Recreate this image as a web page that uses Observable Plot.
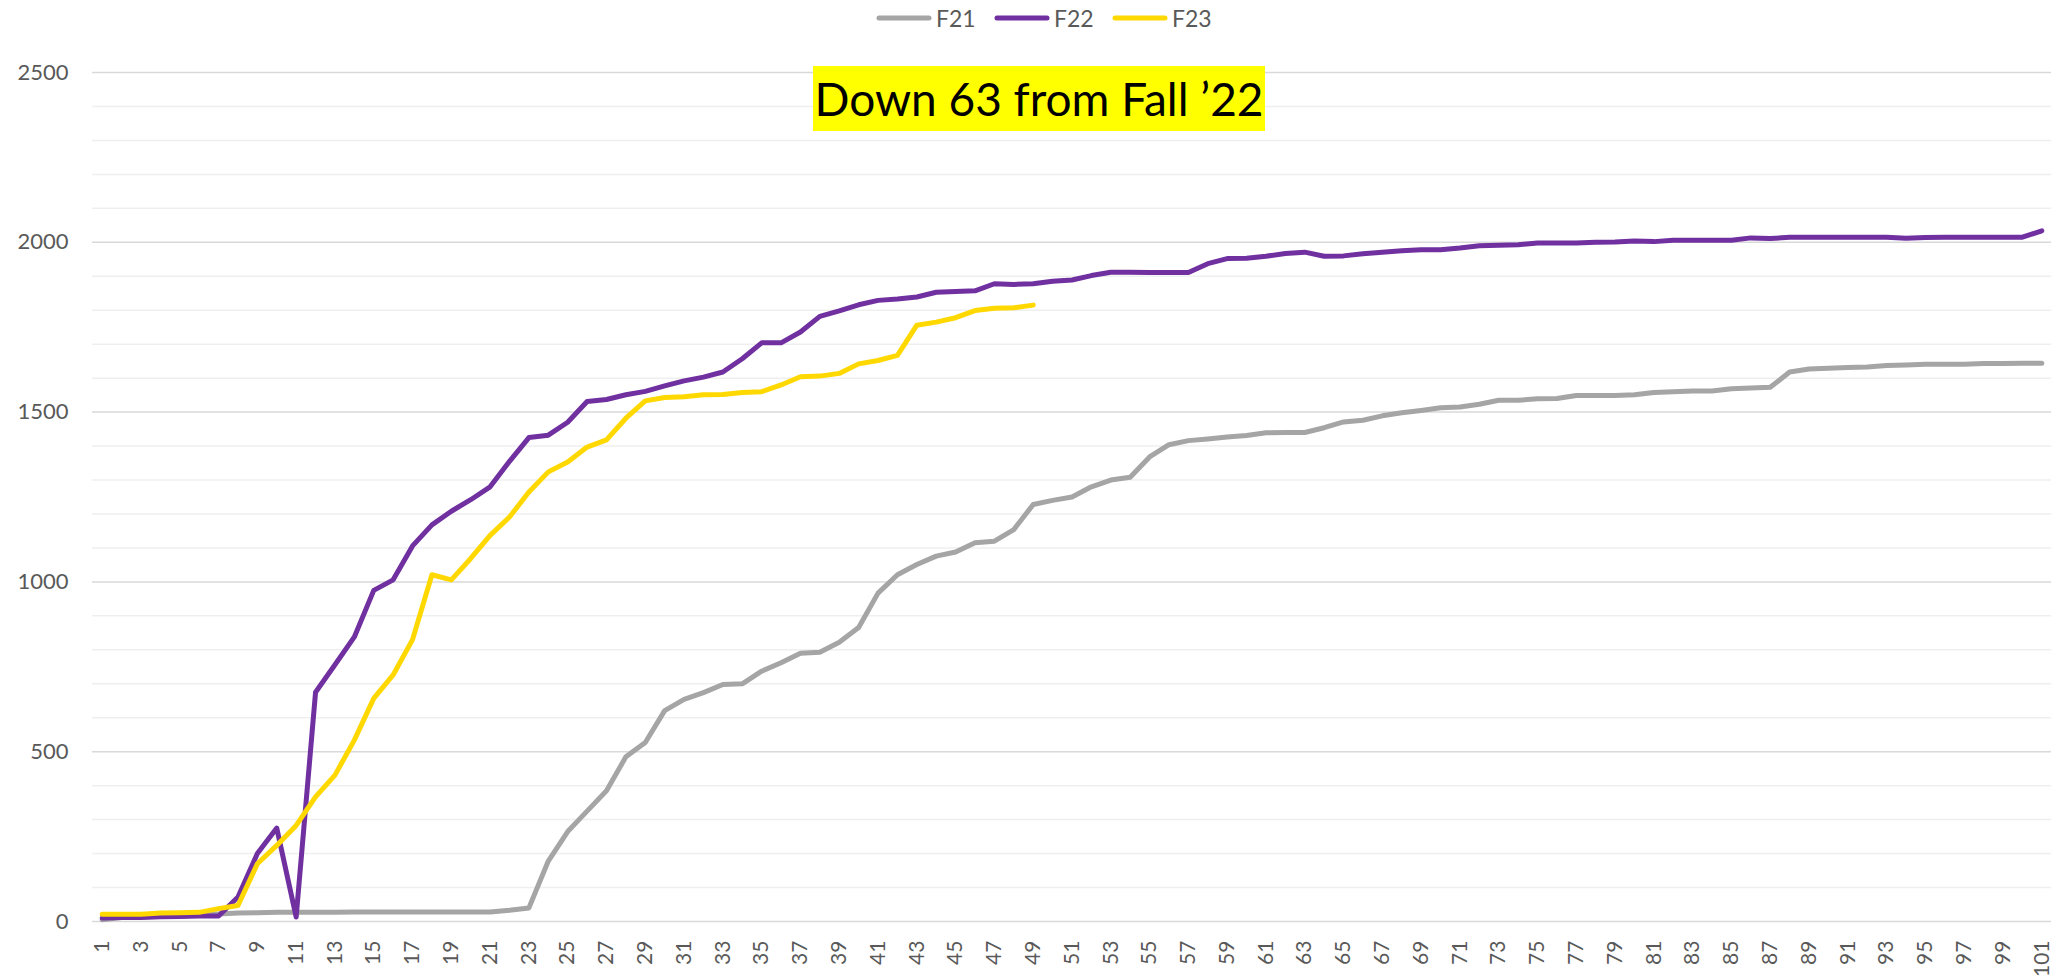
<!DOCTYPE html>
<html>
<head>
<meta charset="utf-8">
<script src="https://cdn.jsdelivr.net/npm/d3@7"></script>
<script src="https://cdn.jsdelivr.net/npm/@observablehq/plot@0.6"></script>
<style>
  html, body { margin: 0; padding: 0; background: #fff; }
  body { width: 2055px; height: 978px; position: relative; overflow: hidden; font-family: Lato, "Open Sans", sans-serif; }
  #legend { height: 36px; position: relative; }
  .item { position: absolute; top: 0; height: 36px; display: flex; align-items: center; color: #595959; font-size: 23px; }
  .item svg { margin-right: 4px; }
  #title { position: absolute; left: 813px; top: 66px; width: 452px; height: 65px; background: #FFFF00; color: #000;
           font-size: 46px; line-height: 65px; text-align: center; white-space: nowrap; }
</style>
</head>
<body>
<div id="legend"></div>
<div id="chart"></div>
<div id="title"></div>
<script>
const weeks = [1,2,3,4,5,6,7,8,9,10,11,12,13,14,15,16,17,18,19,20,21,22,23,24,25,26,27,28,29,30,31,32,33,34,35,36,37,38,39,40,41,42,43,44,45,46,47,48,49,50,51,52,53,54,55,56,57,58,59,60,61,62,63,64,65,66,67,68,69,70,71,72,73,74,75,76,77,78,79,80,81,82,83,84,85,86,87,88,89,90,91,92,93,94,95,96,97,98,99,100,101];
const xTickLabels = [1,3,5,7,9,11,13,15,17,19,21,23,25,27,29,31,33,35,37,39,41,43,45,47,49,51,53,55,57,59,61,63,65,67,69,71,73,75,77,79,81,83,85,87,89,91,93,95,97,99,101];
const yTicksMajor = [0,500,1000,1500,2000,2500];
const yTicksMinor = [100,200,300,400,600,700,800,900,1100,1200,1300,1400,1600,1700,1800,1900,2100,2200,2300,2400];
const seriesNames = ["F21","F22","F23"];
const seriesColors = ["#A5A5A5","#7030A0","#FFD800"];
const titleText = "Down 63 from Fall \u201922";

const F21 = [5,12,15,17,18,20,22,25,26,27,27,27,27,28,28,28,28,28,28,28,28,33,40,178,265,325,385,485,527,621,654,674,698,700,737,762,790,793,822,866,967,1021,1051,1076,1088,1115,1120,1154,1228,1240,1250,1280,1300,1308,1368,1404,1416,1421,1427,1431,1439,1440,1440,1454,1471,1476,1489,1498,1505,1513,1515,1523,1535,1535,1539,1540,1549,1549,1549,1551,1558,1560,1562,1562,1569,1571,1573,1618,1627,1629,1631,1633,1637,1639,1641,1641,1641,1643,1643,1644,1644];
const F22 = [10,12,12,14,15,16,16,72,200,275,13,675,756,838,975,1006,1106,1168,1208,1242,1280,1355,1425,1432,1470,1531,1537,1551,1561,1577,1592,1603,1618,1657,1704,1704,1736,1782,1798,1816,1829,1833,1839,1853,1855,1857,1878,1876,1878,1885,1889,1902,1912,1912,1911,1911,1911,1937,1952,1953,1959,1967,1971,1959,1960,1966,1971,1975,1978,1978,1983,1990,1991,1993,1998,1998,1998,2000,2001,2004,2002,2006,2006,2006,2006,2013,2011,2015,2015,2015,2015,2015,2015,2012,2014,2015,2015,2015,2015,2015,2034];
const F23 = [21,21,21,25,26,27,38,47,170,224,283,367,431,534,657,726,830,1021,1006,1069,1137,1191,1265,1324,1353,1397,1418,1482,1533,1543,1545,1551,1552,1558,1560,1580,1604,1606,1614,1642,1652,1667,1756,1765,1778,1799,1806,1807,1815];

const seriesValues = [F21, F22, F23];

// Legend
const legend = document.getElementById("legend");
const legendLeft = [876, 994, 1112];
seriesNames.forEach((name, i) => {
  const item = document.createElement("div");
  item.className = "item";
  item.style.left = legendLeft[i] + "px";
  item.innerHTML = `<svg width="56" height="10"><line x1="3" y1="5" x2="53" y2="5" stroke="${seriesColors[i]}" stroke-width="5" stroke-linecap="round"/></svg><span>${name}</span>`;
  legend.appendChild(item);
});

document.getElementById("title").textContent = titleText;

const lineMarks = seriesValues.map((vals, s) =>
  Plot.line(vals, {
    x: (d, i) => weeks[i],
    y: d => d,
    stroke: seriesColors[s],
    strokeWidth: 5,
    strokeLinejoin: "round",
    strokeLinecap: "round"
  })
);

const chart = Plot.plot({
  width: 2055,
  height: 942,
  marginTop: 36,
  marginBottom: 57,
  marginLeft: 92,
  marginRight: 4,
  style: { fontFamily: "Lato, 'Open Sans', sans-serif", background: "#fff", color: "#595959" },
  x: { type: "linear", domain: [0.5, 101.5] },
  y: { domain: [0, 2500] },
  marks: [
    Plot.ruleY(yTicksMinor, { stroke: "#EFEFEF", strokeWidth: 1.5 }),
    Plot.ruleY(yTicksMajor, { stroke: "#D9D9D9", strokeWidth: 1.5 }),
    Plot.axisY(yTicksMajor, { tickSize: 0, tickPadding: 24, fontSize: 22, fill: "#595959", label: null, tickFormat: d => String(d) }),
    Plot.axisX(xTickLabels, { tickSize: 0, tickPadding: 19, tickRotate: -90, fontSize: 21, fill: "#595959", label: null, tickFormat: d => String(d) }),
    ...lineMarks
  ]
});
document.getElementById("chart").appendChild(chart);
</script>
</body>
</html>
